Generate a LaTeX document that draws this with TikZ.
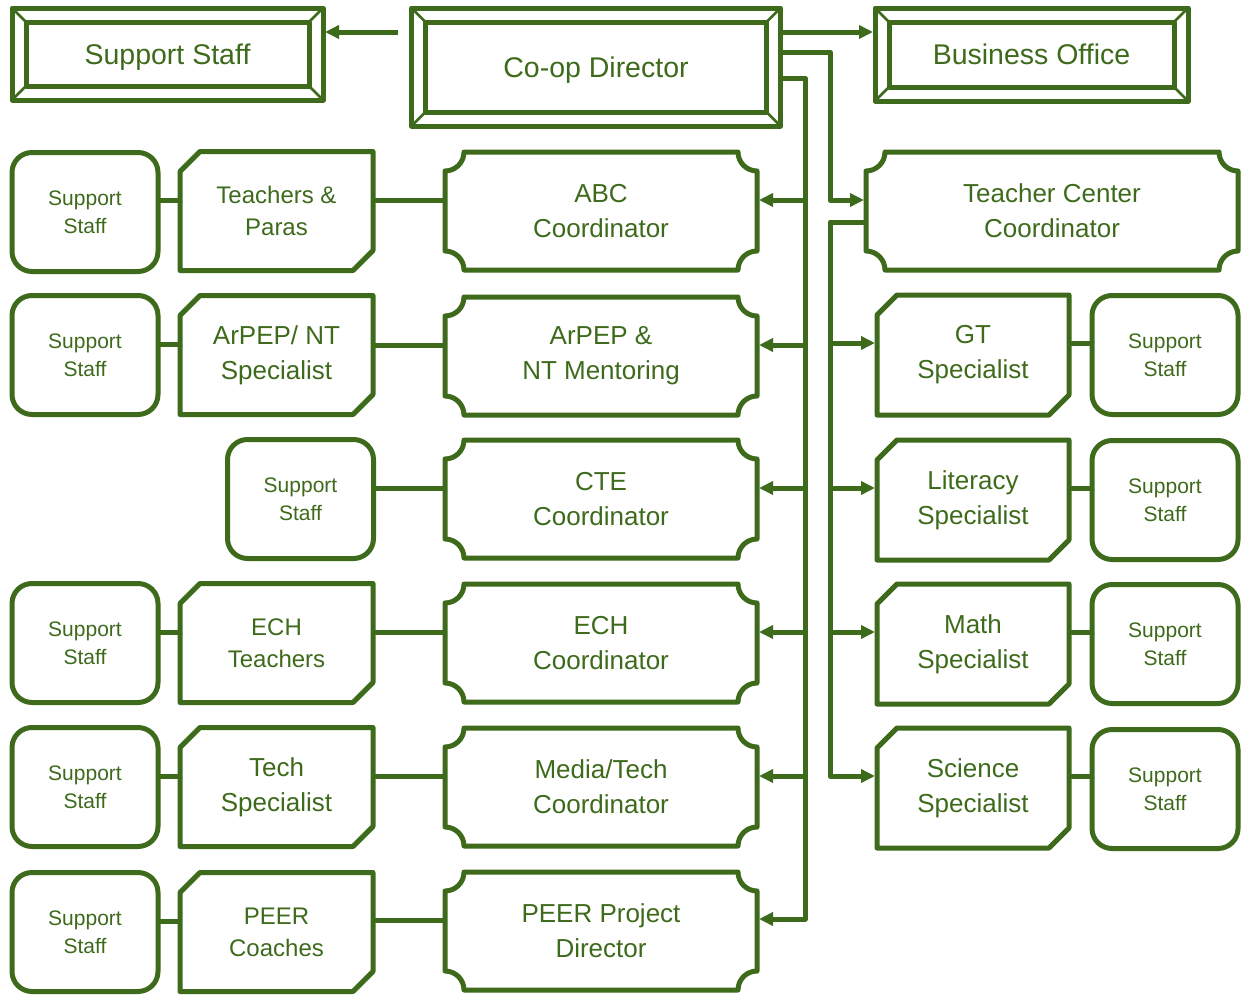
\documentclass[tikz,border=0pt]{standalone}
\usepackage{fontspec}
\setmainfont{Liberation Sans}
\usetikzlibrary{arrows.meta,calc}
\definecolor{dg}{HTML}{3E6A1C}
\begin{document}
\begin{tikzpicture}[x=1pt,y=1pt,line join=round,
  ln/.style={draw=dg, line width=5pt},
  arr/.style={ln, -{Triangle[length=14pt,width=13pt]}, shorten >=2pt},
  txt/.style={text=dg, align=center, inner sep=0pt, outer sep=0pt},
  bevelbox/.style={txt, draw=dg, line width=5pt, font=\fontsize{28.5}{34}\selectfont, text depth=0pt},
  plaquebox/.style={txt, minimum width=312pt, minimum height=118pt, font=\fontsize{26}{35}\selectfont},
  snipbox/.style={txt, minimum width=193pt, minimum height=119pt},
  roundbox/.style={txt, draw=dg, line width=5pt, rounded corners=20pt, minimum width=146pt, minimum height=119pt, font=\fontsize{21}{28}\selectfont},
  big/.style={font=\fontsize{26}{35}\selectfont},
  mid/.style={font=\fontsize{24}{32}\selectfont},
]
\useasboundingbox (0,0) rectangle (1242,-1004);

% top row
\node[bevelbox, minimum width=311pt, minimum height=92pt] (topsup) at (167.5,-54) {Support Staff};
\node[bevelbox, minimum width=369pt, minimum height=118pt] (coop) at (596,-67) {Co-op Director};
\node[bevelbox, minimum width=313pt, minimum height=93pt] (bus) at (1031.5,-54.5) {Business Office};
\foreach \n in {topsup,coop,bus}{
  \draw[dg, line width=5pt] ([shift={(14pt,-14pt)}]\n.north west) rectangle ([shift={(-14pt,14pt)}]\n.south east);
  \draw[dg, line width=2.5pt] (\n.north west) -- ++(14pt,-14pt) (\n.north east) -- ++(-14pt,-14pt)
        (\n.south west) -- ++(14pt,14pt) (\n.south east) -- ++(-14pt,14pt);
}

% coordinators (plaques)
\node[plaquebox] (abc) at (601,-211) {ABC\\Coordinator};
\node[plaquebox] (arpep) at (601,-356) {ArPEP \&\\NT Mentoring};
\node[plaquebox] (cte) at (601,-499) {CTE\\Coordinator};
\node[plaquebox] (ech) at (601,-643) {ECH\\Coordinator};
\node[plaquebox] (media) at (601,-787) {Media/Tech\\Coordinator};
\node[plaquebox] (peer) at (601,-931) {PEER Project\\Director};
\node[plaquebox, minimum width=372pt] (tcc) at (1052,-211) {Teacher Center\\Coordinator};
\foreach \n in {abc,arpep,cte,ech,media,peer,tcc}{
  \draw[ln] ([yshift=-19pt]\n.north west) arc[start angle=-90,end angle=0,radius=19pt]
    -- ([xshift=-19pt]\n.north east) arc[start angle=180,end angle=270,radius=19pt]
    -- ([yshift=19pt]\n.south east) arc[start angle=90,end angle=180,radius=19pt]
    -- ([xshift=19pt]\n.south west) arc[start angle=0,end angle=90,radius=19pt] -- cycle;
}

% snipped boxes
\node[snipbox, mid] (tp) at (276.5,-211) {Teachers \&\\Paras};
\node[snipbox, big] (anspec) at (276.5,-355) {ArPEP/ NT\\Specialist};
\node[snipbox, mid] (echt) at (276.5,-643) {ECH\\Teachers};
\node[snipbox, big] (tech) at (276.5,-787) {Tech\\Specialist};
\node[snipbox, mid] (peerc) at (276.5,-932) {PEER\\Coaches};
\node[snipbox, big, minimum width=192pt, minimum height=120pt] (gt) at (973,-355) {GT\\Specialist};
\node[snipbox, big, minimum width=192pt, minimum height=120pt] (lit) at (973,-500) {Literacy\\Specialist};
\node[snipbox, big, minimum width=192pt, minimum height=120pt] (math) at (973,-644) {Math\\Specialist};
\node[snipbox, big, minimum width=192pt, minimum height=120pt] (sci) at (973,-788) {Science\\Specialist};
\foreach \n in {tp,anspec,echt,tech,peerc,gt,lit,math,sci}{
  \draw[ln] ([yshift=-20pt]\n.north west) -- ([xshift=20pt]\n.north west) -- (\n.north east)
    -- ([yshift=20pt]\n.south east) -- ([xshift=-20pt]\n.south east) -- (\n.south west) -- cycle;
}

% support staff boxes
\node[roundbox] (s1) at (85,-212) {Support\\Staff};
\node[roundbox] (s2) at (85,-355) {Support\\Staff};
\node[roundbox] (s3) at (300.5,-499) {Support\\Staff};
\node[roundbox] (s4) at (85,-643) {Support\\Staff};
\node[roundbox] (s5) at (85,-787) {Support\\Staff};
\node[roundbox] (s6) at (85,-932) {Support\\Staff};
\node[roundbox] (r2) at (1165,-355) {Support\\Staff};
\node[roundbox] (r3) at (1165,-500) {Support\\Staff};
\node[roundbox] (r4) at (1165,-644) {Support\\Staff};
\node[roundbox] (r5) at (1165,-789) {Support\\Staff};

% top connectors
\draw[arr] ([xshift=-14pt,yshift=35pt]coop.west) -- ([yshift=35pt]coop.west -| topsup.east);
\draw[arr] ([yshift=35pt]coop.east) -- ([yshift=35pt]coop.east -| bus.west);
\draw[arr] ([yshift=15pt]coop.east) -| ([xshift=-36pt,yshift=11pt]tcc.west) -- ([yshift=11pt]tcc.west);

% coordinator bus
\draw[arr] ([yshift=-11pt]coop.east) -| ([xshift=48pt,yshift=12pt]peer.east) -- ([yshift=12pt]peer.east);
\foreach \n in {abc,arpep,cte,ech,media}
  \draw[arr] ([xshift=48pt,yshift=11pt]\n.east) -- ([yshift=11pt]\n.east);

% left chains
\foreach \c/\m/\s in {abc/tp/s1, arpep/anspec/s2, ech/echt/s4, media/tech/s5, peer/peerc/s6}{
  \draw[ln] ([yshift=11pt]\c.west) -- ([yshift=11pt]\c.west -| \m.east);
  \draw[ln] ([yshift=11pt]\m.west) -- ([yshift=11pt]\m.west -| \s.east);
}
\draw[ln] ([yshift=11pt]cte.west) -- ([yshift=11pt]cte.west -| s3.east);

% teacher center bus
\draw[arr] ([yshift=-11pt]tcc.west) -| ([xshift=-47pt,yshift=12pt]sci.west) -- ([yshift=12pt]sci.west);
\foreach \n in {gt,lit,math}
  \draw[arr] ([xshift=-47pt,yshift=12pt]\n.west) -- ([yshift=12pt]\n.west);
\foreach \n/\s in {gt/r2, lit/r3, math/r4, sci/r5}
  \draw[ln] ([yshift=12pt]\n.east) -- ([yshift=12pt]\n.east -| \s.west);
\end{tikzpicture}
\end{document}
